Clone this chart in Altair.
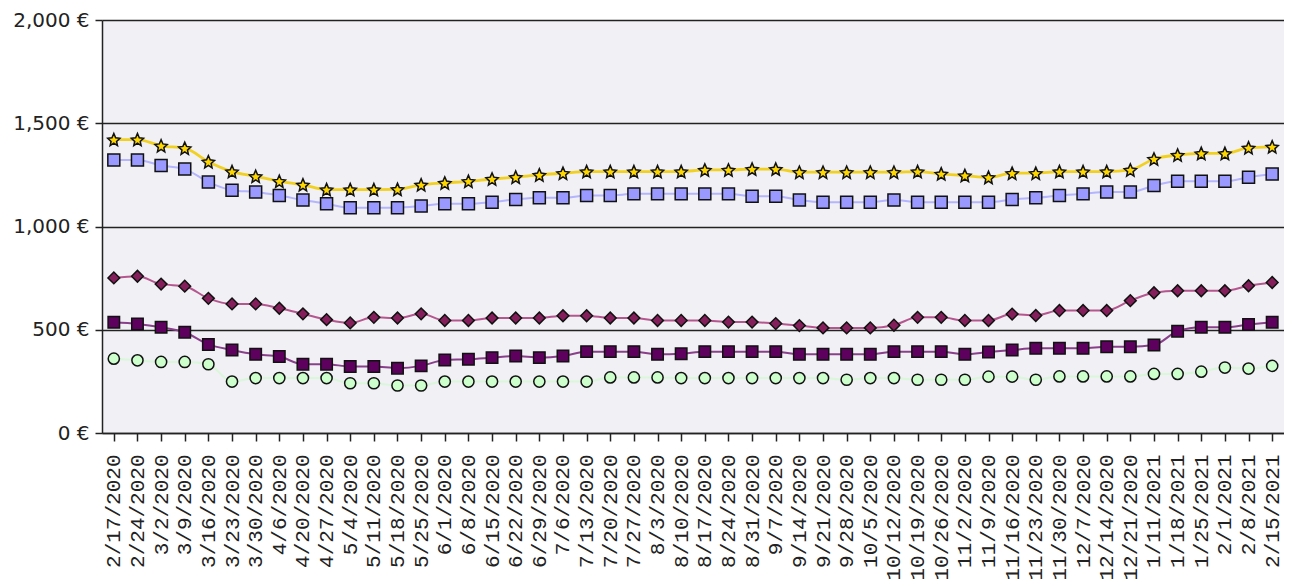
import altair as alt
import pandas as pd

dates = ["2/17/2020", "2/24/2020", "3/2/2020", "3/9/2020", "3/16/2020", "3/23/2020", "3/30/2020",
         "4/6/2020", "4/20/2020", "4/27/2020", "5/4/2020", "5/11/2020", "5/18/2020", "5/25/2020",
         "6/1/2020", "6/8/2020", "6/15/2020", "6/22/2020", "6/29/2020", "7/6/2020", "7/13/2020",
         "7/20/2020", "7/27/2020", "8/3/2020", "8/10/2020", "8/17/2020", "8/24/2020", "8/31/2020",
         "9/7/2020", "9/14/2020", "9/21/2020", "9/28/2020", "10/5/2020", "10/12/2020", "10/19/2020",
         "10/26/2020", "11/2/2020", "11/9/2020", "11/16/2020", "11/23/2020", "11/30/2020",
         "12/7/2020", "12/14/2020", "12/21/2020", "1/11/2021", "1/18/2021", "1/25/2021",
         "2/1/2021", "2/8/2021", "2/15/2021"]

stars = [1421, 1421, 1391, 1379, 1314, 1266, 1243, 1219, 1202, 1179, 1179, 1179, 1180, 1202,
         1211, 1219, 1230, 1239, 1250, 1258, 1266, 1266, 1266, 1266, 1266, 1274, 1274, 1278,
         1278, 1263, 1263, 1263, 1263, 1263, 1266, 1255, 1247, 1238, 1258, 1258, 1266, 1266,
         1266, 1274, 1327, 1346, 1354, 1354, 1381, 1386]

blue_squares = [1322, 1322, 1295, 1278, 1215, 1176, 1167, 1150, 1128, 1110, 1091, 1091, 1091,
                1099, 1110, 1110, 1118, 1131, 1139, 1139, 1150, 1150, 1158, 1158, 1158, 1158,
                1158, 1147, 1147, 1128, 1118, 1118, 1118, 1128, 1118, 1118, 1118, 1118, 1131,
                1139, 1150, 1158, 1167, 1167, 1198, 1219, 1219, 1219, 1238, 1254]

diamonds = [751, 759, 721, 711, 652, 625, 625, 604, 577, 549, 533, 560, 557, 577, 545, 545,
            557, 557, 557, 568, 568, 557, 557, 545, 545, 545, 537, 537, 530, 520, 509, 509,
            509, 522, 560, 560, 545, 545, 576, 569, 593, 593, 593, 641, 679, 689, 689, 689,
            713, 729]

dark_squares = [536, 528, 512, 488, 429, 402, 381, 370, 333, 333, 322, 322, 314, 325, 354, 357,
                365, 373, 365, 373, 394, 394, 394, 381, 384, 394, 394, 394, 394, 381, 381, 381,
                381, 394, 394, 394, 381, 392, 402, 410, 410, 410, 418, 418, 426, 493, 512, 512,
                525, 536]

green_circles = [360, 352, 344, 344, 333, 249, 266, 266, 266, 266, 241, 241, 230, 230, 249, 249,
                 249, 249, 249, 249, 249, 269, 269, 269, 266, 266, 266, 266, 266, 266, 266, 258,
                 266, 266, 258, 258, 258, 273, 273, 258, 274, 274, 274, 274, 286, 286, 297, 317,
                 312, 325]

series_names = ["Series A", "Series B", "Series C", "Series D", "Series E"]
series_values = [green_circles, dark_squares, diamonds, blue_squares, stars]
line_colors = ["#d9f7d9", "#8a3f8a", "#b5568f", "#b4b4ff", "#f2d020"]
line_widths = [2, 2, 2, 2, 2.8]
fill_colors = ["#ccffcc", "#5e005e", "#851f5c", "#9999ff", "#ffd700"]
shapes = ["circle", "square", "diamond", "square",
          "M-1,-0.2L-0.3,-0.3L0,-1L0.3,-0.3L1,-0.2L0.45,0.3L0.6,1L0,0.6L-0.6,1L-0.45,0.3Z"]
sizes = [125, 150, 105, 150, 100]

rows = []
for name, vals, lw in zip(series_names, series_values, line_widths):
    for d, v in zip(dates, vals):
        rows.append({"date": d, "series": name, "value": v, "lw": lw})
df = pd.DataFrame(rows)

x_enc = alt.X("date:O", sort=dates, title=None,
              axis=alt.Axis(labelAngle=270, labelAlign="right", labelBaseline="middle",
                            labelOverlap=False, labelFont="Liberation Mono", labelFontSize=21,
                            labelColor="#222", labelPadding=13, tickSize=8, tickWidth=1.5,
                            tickColor="#222", domainColor="#222", domainWidth=1.5, grid=False))
y_enc = alt.Y("value:Q", title=None,
              scale=alt.Scale(domain=[0, 2000], nice=False),
              axis=alt.Axis(values=[0, 500, 1000, 1500, 2000],
                            labelExpr="format(datum.value, ',') + ' €'",
                            labelFont="DejaVu Sans", labelFontSize=20, labelColor="#222",
                            labelPadding=6, tickSize=7, tickWidth=1.5, tickColor="#222",
                            domainColor="#222", domainWidth=1.5,
                            grid=True, gridColor="#222", gridWidth=1.5))

base = alt.Chart(df)

lines = base.mark_line(interpolate="monotone").encode(
    x=x_enc, y=y_enc,
    color=alt.Color("series:N", scale=alt.Scale(domain=series_names, range=line_colors), legend=None),
    strokeWidth=alt.StrokeWidth("lw:Q", scale=None),
    detail="series:N",
)

points = base.mark_point(filled=True, stroke="#111", strokeWidth=1.5, opacity=1).encode(
    x=x_enc, y=y_enc,
    fill=alt.Fill("series:N", scale=alt.Scale(domain=series_names, range=fill_colors), legend=None),
    shape=alt.Shape("series:N", scale=alt.Scale(domain=series_names, range=shapes), legend=None),
    size=alt.Size("series:N", scale=alt.Scale(domain=series_names, range=sizes), legend=None),
)

chart = alt.layer(lines, points).properties(
    width=1182, height=413,
    autosize=alt.AutoSizeParams(type="none"),
    padding={"left": 94, "top": 12, "right": 0, "bottom": 150},
    background="white",
).configure_view(fill="#f0f0f5", stroke=None)

chart.save("out.html", embed_options={"renderer": "svg", "actions": False})
